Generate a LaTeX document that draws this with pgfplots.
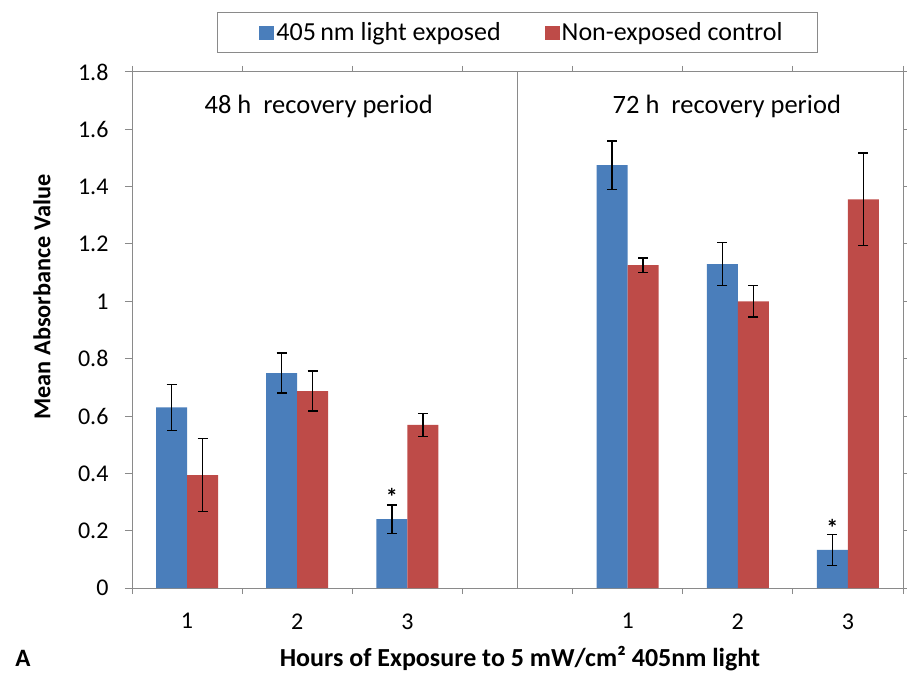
\documentclass[border=0pt]{standalone}
\usepackage{pgfplots}
\pgfplotsset{compat=1.18}
\usepackage{fontspec}
\setmainfont{Carlito}
\definecolor{bblue}{HTML}{4A7EBB}
\definecolor{rred}{HTML}{BE4B48}
\definecolor{axgray}{HTML}{8A8A8A}
\begin{document}
\begin{tikzpicture}[x=1pt,y=1pt]
\path[use as bounding box] (0,0) rectangle (907,675);
\begin{axis}[
  at={(132pt,87pt)}, anchor=south west,
  scale only axis, width=771pt, height=516pt,
  xmin=-0.5, xmax=6.5, ymin=0, ymax=1.8,
  ybar=0pt, bar width=31pt,
  axis line style={axgray, line width=1pt},
  tick align=outside,
  xtick={0,1,2,4,5,6}, xticklabels={1,2,3,1,2,3},
  major x tick style={draw=none},
  minor xtick={-0.5,0.5,1.5,2.5,3.5,4.5,5.5,6.5},
  minor tick length=6pt, major tick length=7pt,
  ytick={0,0.2,0.4,0.6,0.8,1,1.2,1.4,1.6,1.8},
  yticklabels={0,0.2,0.4,0.6,0.8,1,1.2,1.4,1.6,1.8},
  tick style={axgray, line width=1pt},
  xticklabel style={font=\fontsize{24}{28}\selectfont, yshift=-15pt},
  yticklabel style={font=\fontsize{24}{28}\selectfont, xshift=-13pt},
  extra x ticks={3}, extra x tick labels={},
  extra x tick style={grid=major, major grid style={axgray, line width=1pt}, major tick length=0pt},
  legend style={at={(0.5,1)}, anchor=south, yshift=19pt, draw=axgray, line width=1pt,
    font=\fontsize{26}{30}\selectfont, legend columns=2, inner xsep=33pt, inner ysep=8pt,
    /tikz/every even column/.append style={column sep=42pt}},
  clip=false,
]
\addplot[fill=bblue, draw=none,
  legend image code/.code={\path (-9pt,0pt); \fill[bblue] (0pt,-7pt) rectangle (15pt,7pt);},
  error bars/.cd, y dir=both, y explicit,
  error bar style={black, line width=1.5pt},
  error mark options={black, rotate=90, mark size=5pt, line width=1.5pt}]
  coordinates {(0,0.63) +- (0,0.08) (1,0.75) +- (0,0.07) (2,0.24) +- (0,0.05)
               (4,1.475) +- (0,0.085) (5,1.13) +- (0,0.075) (6,0.133) +- (0,0.054)};
\addlegendentry{405\,nm light exposed}
\addplot[fill=rred, draw=none,
  legend image code/.code={\fill[rred] (0pt,-7pt) rectangle (15pt,7pt);},
  error bars/.cd, y dir=both, y explicit,
  error bar style={black, line width=1.5pt},
  error mark options={black, rotate=90, mark size=5pt, line width=1.5pt}]
  coordinates {(0,0.394) +- (0,0.128) (1,0.687) +- (0,0.07) (2,0.569) +- (0,0.04)
               (4,1.126) +- (0,0.026) (5,1.0) +- (0,0.055) (6,1.356) +- (0,0.162)};
\addlegendentry{Non-exposed control}
\node[font=\bfseries\fontsize{24}{28}\selectfont] at ([xshift=-15.5pt,yshift=-5pt]axis cs:2,0.335) {*};
\node[font=\bfseries\fontsize{24}{28}\selectfont] at ([xshift=-15.5pt,yshift=-5pt]axis cs:6,0.227) {*};
\node[font=\fontsize{26.5}{31}\selectfont] at (axis cs:1.195,1.681) {48 h\ \ recovery period};
\node[font=\fontsize{26.5}{31}\selectfont] at (axis cs:4.9,1.681) {72 h\ \ recovery period};
\end{axis}
\node[rotate=90, font=\bfseries\fontsize{24.3}{28}\selectfont] at (42,378) {Mean Absorbance Value};
\node[font=\bfseries\fontsize{26}{30}\selectfont] at (520,16) {Hours of Exposure to 5 mW/cm² 405nm light};
\node[font=\bfseries\fontsize{25}{29}\selectfont] at (23,17) {A};
\end{tikzpicture}
\end{document}
